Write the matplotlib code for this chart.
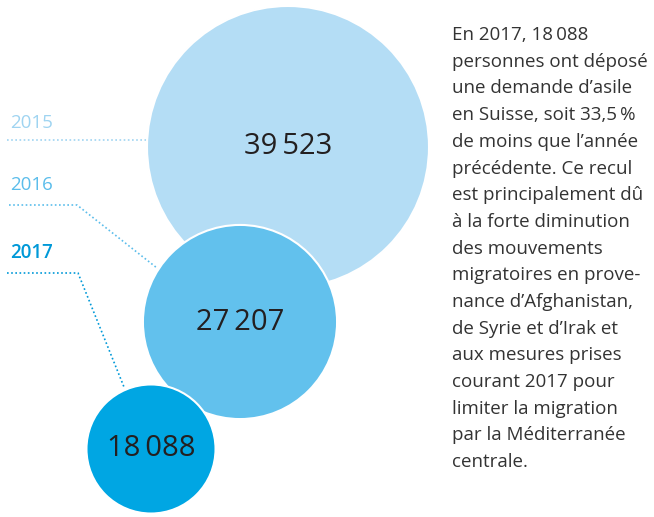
import matplotlib.pyplot as plt
from matplotlib.patches import Circle

plt.rcParams['font.family'] = ['Open Sans', 'DejaVu Sans']

years = ['2015', '2016', '2017']
values = [39523, 27207, 18088]
circle_colors = ['#b4ddf5', '#62c1ed', '#00a6e3']
label_colors = ['#9fd4f1', '#5bbdeb', '#0099d8']

text_lines = [
    "En 2017, 18\u2009088",
    "personnes ont déposé",
    "une demande d\u2019asile",
    "en Suisse, soit 33,5\u2009%",
    "de moins que l\u2019année",
    "précédente. Ce recul",
    "est principalement dû",
    "à la forte diminution",
    "des mouvements",
    "migratoires en prove-",
    "nance d\u2019Afghanistan,",
    "de Syrie et d\u2019Irak et",
    "aux mesures prises",
    "courant 2017 pour",
    "limiter la migration",
    "par la Méditerranée",
    "centrale.",
]

# layout (pixels)
centers = [(288, 147), (240, 322), (151, 449)]
scale = 141 / max(values)
label_y = [128, 190, 258]
leaders = [
    [(7, 140), (147, 140)],
    [(9, 205), (77, 205), (157, 268)],
    [(7, 273), (78, 273), (124, 387)],
]

fig = plt.figure(figsize=(6.54, 5.17), dpi=100)
ax = fig.add_axes([0, 0, 1, 1])
ax.set_xlim(0, 654)
ax.set_ylim(517, 0)
ax.axis('off')

for i, (yr, v) in enumerate(zip(years, values)):
    cx, cy = centers[i]
    ax.add_patch(Circle((cx, cy), v * scale, facecolor=circle_colors[i],
                        edgecolor='white', lw=1.5, zorder=1 + i))
    ax.text(cx, cy, f"{v:,}".replace(',', '\u2009'), ha='center', va='center',
            fontsize=21, color='#231f20', zorder=5)
    ax.text(10, label_y[i], yr, fontsize=13.5, color=label_colors[i],
            fontweight='semibold' if i == 2 else 'normal', va='baseline')
    xs, ys = zip(*leaders[i])
    ax.plot(xs, ys, color=label_colors[i], lw=1.2, linestyle=(0, (1, 1.5)), zorder=0)

for k, line in enumerate(text_lines):
    ax.text(452, 40 + 26.7 * k, line, fontsize=13.5, color='#333333', va='baseline')

fig.savefig('out.png', dpi=100)
